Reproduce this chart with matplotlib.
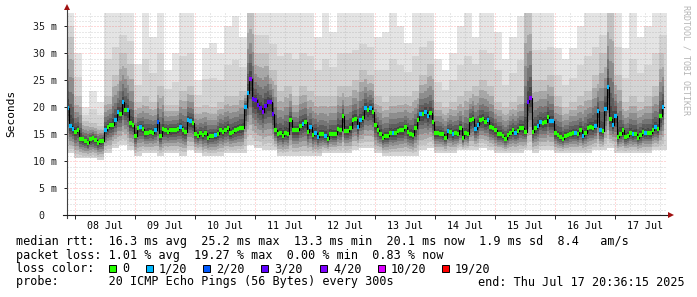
import numpy as np
import matplotlib
matplotlib.use("Agg")
import matplotlib.pyplot as plt
from matplotlib.patches import Rectangle

W, H = 697, 297
MONO = "DejaVu Sans Mono"

# hourly median rtt (ms), 07 Jul 20:36 -> 17 Jul 20:36
median_ms = [
    19.9, 16.6, 16.0, 15.5, 15.8, 14.2, 14.1, 13.7, 13.4, 14.1,
    14.3, 13.9, 13.4, 13.7, 13.8, 15.8, 16.3, 16.7, 16.7, 17.6,
    19.2, 18.7, 20.9, 19.5, 19.4, 17.1, 16.8, 14.7, 16.1, 16.3,
    16.0, 15.2, 15.3, 15.5, 15.3, 15.7, 17.2, 14.6, 16.0,
    15.7, 15.5, 15.7, 15.8, 15.8, 16.0, 16.3, 15.7, 15.5, 17.6,
    17.4, 17.1, 15.1, 14.7, 15.3, 14.8, 15.2, 14.3, 14.7, 14.7,
    14.8, 15.1, 15.8, 15.5, 15.8, 16.1, 15.2, 15.5, 15.8, 16.0,
    16.1, 16.2, 20.0, 22.6, 25.3, 21.6, 21.3, 20.4, 19.8, 19.2,
    20.3, 20.9, 20.9, 18.8, 15.8, 15.0, 15.3, 14.7, 15.3, 15.1,
    17.6, 15.8, 15.8, 15.7, 16.6, 16.9, 17.2, 15.5, 16.3, 14.8,
    15.3, 14.5, 15.0, 15.0, 14.7, 14.1, 15.1, 15.0, 15.0, 16.0,
    15.7, 18.3, 15.6, 15.6, 16.1, 17.6, 17.8, 16.4, 17.7, 18.1,
    19.9, 19.5, 19.9, 19.2, 16.7, 15.8, 15.1, 14.3, 14.6, 14.6,
    15.3, 15.2, 15.3, 15.6, 15.7, 15.7, 16.3, 15.5, 15.1, 14.8,
    16.1, 17.7, 18.7, 18.7, 19.2, 18.3, 18.9, 17.3, 15.2, 15.2,
    15.1, 15.0, 14.3, 15.6, 15.5, 15.0, 15.3, 15.1, 16.1, 14.3,
    15.3, 15.0, 17.6, 17.9, 16.0, 16.7, 17.7, 17.8, 17.2, 17.6,
    16.4, 16.1, 15.8, 15.0, 15.0, 14.7, 14.2, 14.8, 15.3, 15.8,
    15.3, 15.6, 16.2, 16.1, 15.5, 21.0, 21.8, 15.5, 16.1, 16.6,
    17.3, 17.1, 17.2, 18.2, 17.4, 17.4, 15.2, 14.8, 14.5, 14.2,
    14.7, 14.8, 15.1, 15.2, 15.3, 15.0, 15.7, 14.7, 15.3, 16.1,
    16.4, 16.1, 16.6, 19.3, 15.7, 15.6, 19.7, 23.7, 17.9, 16.8,
    18.3, 14.5, 15.1, 15.7, 14.5, 14.7, 15.3, 15.0, 15.1, 14.3,
    14.8, 15.5, 15.2, 15.3, 15.2, 15.8, 16.3, 16.0, 18.3, 20.1,
]

# lost pings out of 20 for each hour
loss = [
    1, 1, 1, 0, 0, 0, 0, 0, 0, 0, 0, 0, 0, 0, 0, 1, 0, 0, 0, 1,
    1, 0, 1, 0, 1, 0, 0, 0, 0, 1, 0, 0, 0, 0, 0, 1, 2, 0, 0,
    0, 0, 0, 0, 0, 0, 1, 0, 0, 1, 1, 0, 0, 0, 0, 0, 0, 0, 0, 0,
    1, 0, 0, 0, 0, 0, 0, 0, 0, 0, 0, 0, 1, 1, 4, 3, 3, 3, 3, 4,
    3, 3, 3, 3, 0, 0, 0, 0, 0, 0, 0, 0, 0, 0, 0, 1, 0, 0, 1, 0,
    1, 1, 0, 0, 1, 0, 0, 0, 0, 0, 0, 0, 0, 0, 0, 0, 0, 1, 1, 0,
    1, 0, 1, 0, 0, 0, 0, 0, 0, 0, 0, 1, 0, 0, 0, 0, 0, 0, 0, 0,
    0, 0, 1, 0, 1, 1, 0, 0, 0, 0, 0, 0, 0, 1, 0, 1, 0, 0, 0, 0,
    0, 0, 0, 0, 1, 1, 0, 0, 0, 1, 0, 0, 0, 0, 0, 0, 0, 0, 0, 0,
    1, 0, 0, 0, 0, 3, 4, 0, 0, 1, 1, 0, 0, 0, 1, 1, 0, 0, 0, 0,
    0, 0, 0, 0, 1, 0, 0, 1, 0, 0, 0, 0, 1, 1, 1, 0, 1, 1, 0, 1,
    1, 0, 0, 0, 0, 0, 0, 1, 0, 0, 0, 0, 1, 0, 0, 0, 1, 0, 0, 1,
]

# smoke envelope, one value per 3 hours (ms)
smoke_hi = [
    37.5, 30, 20, 23, 21, 37.5, 37.5, 37.5, 37.5, 28,
    37.5, 33, 37.5, 27, 30, 37.5, 37.5, 25, 31, 32,
    30, 35, 37, 33, 37.5, 37.5, 37.5, 37.5, 37.5, 37.5,
    37.5, 37.5, 37.5, 33, 37.5, 34, 37.5, 37.5, 37.5, 37.5,
    37.5, 33, 34, 37.5, 35, 32, 37.5, 37.5, 37.5, 29,
    27, 30, 35, 37.5, 33, 37.5, 37.5, 34, 29, 33,
    37, 37.5, 37.5, 37.5, 37.5, 31, 29, 31, 35, 37.5,
    37.5, 37.5, 37.5, 37.5, 31, 37.5, 33, 35, 37.5, 37.5,
]
smoke_mid = [
    33, 22, 17.5, 17, 16.5, 22, 26, 30, 28, 21,
    22, 21, 24, 20.5, 20.5, 23, 24, 20, 20.5, 20,
    21, 22, 22, 23, 37.5, 30, 30, 27, 23, 24,
    22, 24, 23, 22, 22, 22, 24, 24, 25, 27,
    26, 22, 21, 22, 22, 22, 23, 26, 28, 21,
    20, 21, 22, 23, 24, 25, 24, 21, 20, 21,
    22, 37.5, 25, 25, 26, 22, 20, 21, 22, 23,
    26, 30, 37.5, 26, 21, 22, 21, 22, 24, 30,
]
smoke_lo = [
    11.5, 10.5, 10.5, 10.5, 10.2, 11.5, 12.5, 13, 12, 11,
    11.5, 11.5, 11, 11.5, 11.5, 11, 12, 11.5, 11, 11,
    11, 11.5, 11.5, 11.5, 13, 12.5, 12, 12, 11, 11,
    11, 11, 11, 11, 11.5, 11.5, 11.5, 11.5, 12, 12.5,
    12.5, 11.5, 11, 11, 11, 11, 11, 12, 12.5, 11.5,
    11.5, 11.5, 12, 12, 12, 12.5, 12, 11.5, 11.5, 11.5,
    11.5, 12, 11.5, 12, 12, 11.5, 11.5, 11.5, 11.5, 11.5,
    12, 12, 12.5, 11.5, 11.5, 11.5, 11.5, 11.5, 12, 12,
]

day_labels = ["08 Jul", "09 Jul", "10 Jul", "11 Jul", "12 Jul",
              "13 Jul", "14 Jul", "15 Jul", "16 Jul", "17 Jul"]
first_midnight = 3.4  # hours from graph start to 08 Jul 00:00
y_ticks = [0, 5, 10, 15, 20, 25, 30, 35]
y_tick_labels = ["0  ", "5 m", "10 m", "15 m", "20 m", "25 m", "30 m", "35 m"]

loss_steps = ["0", "1/20", "2/20", "3/20", "4/20", "10/20", "19/20"]
loss_colors = ["#26ff00", "#00b8ff", "#0059ff", "#5e00ff", "#7e00ff",
               "#dd00ff", "#ff0000"]
loss_color_of = {0: loss_colors[0], 1: loss_colors[1], 2: loss_colors[2],
                 3: loss_colors[3], 4: loss_colors[4]}

fig = plt.figure(figsize=(W / 100, H / 100), dpi=100)
fig.patch.set_facecolor("white")
ax = fig.add_axes([66.5 / W, 1 - 215 / H, 600 / W, 202 / H])
ax.set_xlim(0, 240)
ax.set_ylim(0, 37.5)

med = np.array(median_ms)
n = len(med)
hours = np.arange(n)
col = hours // 3
hi = np.array(smoke_hi, dtype=float)
mid = np.array(smoke_mid, dtype=float)
lo = np.array(smoke_lo, dtype=float)

# outer smoke per 3 h column, then darker layers toward the median
cols = np.arange(len(hi)) * 3
ax.bar(cols, hi - lo, bottom=lo, width=3, align="edge",
       color="#e4e4e4", linewidth=0, zorder=1)
half = mid + (hi - mid) * 0.45
ax.bar(cols, half - lo, bottom=lo, width=3, align="edge",
       color="#d4d4d4", linewidth=0, zorder=1.2)
layers = [(1.0, 0.85, "#c2c2c2"), (0.75, 0.7, "#a8a8a8"),
          (0.55, 0.55, "#8e8e8e"), (0.38, 0.42, "#757575"),
          (0.24, 0.3, "#5d5d5d"), (0.12, 0.18, "#464646")]
up = np.maximum(mid[col], med)
dn = np.minimum(lo[col], med)
for ft, fb, c in layers:
    top = med + (up - med) * ft
    bot = med - (med - dn) * fb
    ax.bar(hours, top - bot, bottom=bot, width=1, align="edge",
           color=c, linewidth=0, zorder=2)

# dotted grid, drawn over the smoke
dots = (0, (1, 2))
for v in range(0, 38):
    if v % 5 == 0:
        ax.axhline(v, color="#ff0000", alpha=0.3, lw=0.72, ls=dots, zorder=3)
    else:
        ax.axhline(v, color="#808080", alpha=0.35, lw=0.72, ls=dots, zorder=3)
midnights = [first_midnight + 24 * k for k in range(len(day_labels))]
noons = [m + 12 for m in midnights]
for k in range(41):
    xv = first_midnight + 6 * k
    if xv >= 240:
        break
    if k % 4 == 0:
        ax.axvline(xv, color="#ff0000", alpha=0.3, lw=0.72, ls=dots, zorder=3)
    else:
        ax.axvline(xv, color="#808080", alpha=0.35, lw=0.72, ls=dots, zorder=3)

# median line with loss colour
edges = np.append(hours, n)
ax.step(edges, np.append(med, med[-1]), where="post", color="black",
        lw=0.8, zorder=4)
ax.hlines(med, hours, hours + 1, colors=[loss_color_of[l] for l in loss],
          lw=3.0, zorder=5)

# axes
for s in ["top", "right", "left", "bottom"]:
    ax.spines[s].set_visible(False)
ax.plot([0, 0], [-0.6, 38.3], color="#404040", lw=0.8, clip_on=False, zorder=6)
ax.plot([-1.6, 240.8], [0, 0], color="#202020", lw=0.8, clip_on=False, zorder=6)
ax.plot([0], [38.6], marker="^", ms=4, color="#a01010", mew=0,
        clip_on=False, zorder=7)
ax.plot([241.6], [0], marker=">", ms=4, color="#a01010", mew=0,
        clip_on=False, zorder=7)

ax.set_yticks(y_ticks)
ax.set_yticklabels(y_tick_labels, family=MONO, fontsize=7.2)
ax.tick_params(axis="y", length=2, width=0.7, pad=4.5, colors="#202020")
ax.set_xticks(midnights)
ax.set_xticklabels([""] * len(midnights))
ax.set_xticks(noons, minor=True)
ax.set_xticklabels(day_labels, minor=True, family=MONO, fontsize=7.2)
ax.tick_params(axis="x", which="major", length=3, width=0.7, color="#202020")
ax.tick_params(axis="x", which="minor", length=0, pad=4)

fig.text(11 / W, 1 - 113 / H, "Seconds", rotation=90, ha="center",
         va="center", family=MONO, fontsize=8)
fig.text(686 / W, 1 - 5 / H, "RRDTOOL / TOBI OETIKER", rotation=270,
         ha="center", va="top", family=MONO, fontsize=6, color="#b4b4b4")

# legend block
lines = [
    "median rtt:  16.3 ms avg  25.2 ms max  13.3 ms min  20.1 ms now  1.9 ms sd  8.4   am/s",
    "packet loss: 1.01 % avg  19.27 % max  0.00 % min  0.83 % now",
]
fig.text(16 / W, 1 - 241 / H, lines[0], family=MONO, fontsize=8.5, va="center")
fig.text(16 / W, 1 - 255 / H, lines[1], family=MONO, fontsize=8.5, va="center")
fig.text(16 / W, 1 - 268.5 / H, "loss color:", family=MONO, fontsize=8.5,
         va="center")
box_x = [109, 146, 203, 261, 320, 378, 442]
for bx, lab, c in zip(box_x, loss_steps, loss_colors):
    fig.patches.append(Rectangle((bx / W, 1 - 272 / H), 7 / W, 7 / H,
                                 transform=fig.transFigure, facecolor=c,
                                 edgecolor="black", lw=0.7))
    fig.text((bx + 13) / W, 1 - 268.5 / H, lab, family=MONO, fontsize=8.5,
             va="center")
fig.text(16 / W, 1 - 282 / H,
         "probe:       20 ICMP Echo Pings (56 Bytes) every 300s",
         family=MONO, fontsize=8.5, va="center")
fig.text(478 / W, 1 - 282 / H, "end: Thu Jul 17 20:36:15 2025",
         family=MONO, fontsize=8.5, va="center")

fig.savefig("out.png", dpi=100, facecolor="white")
